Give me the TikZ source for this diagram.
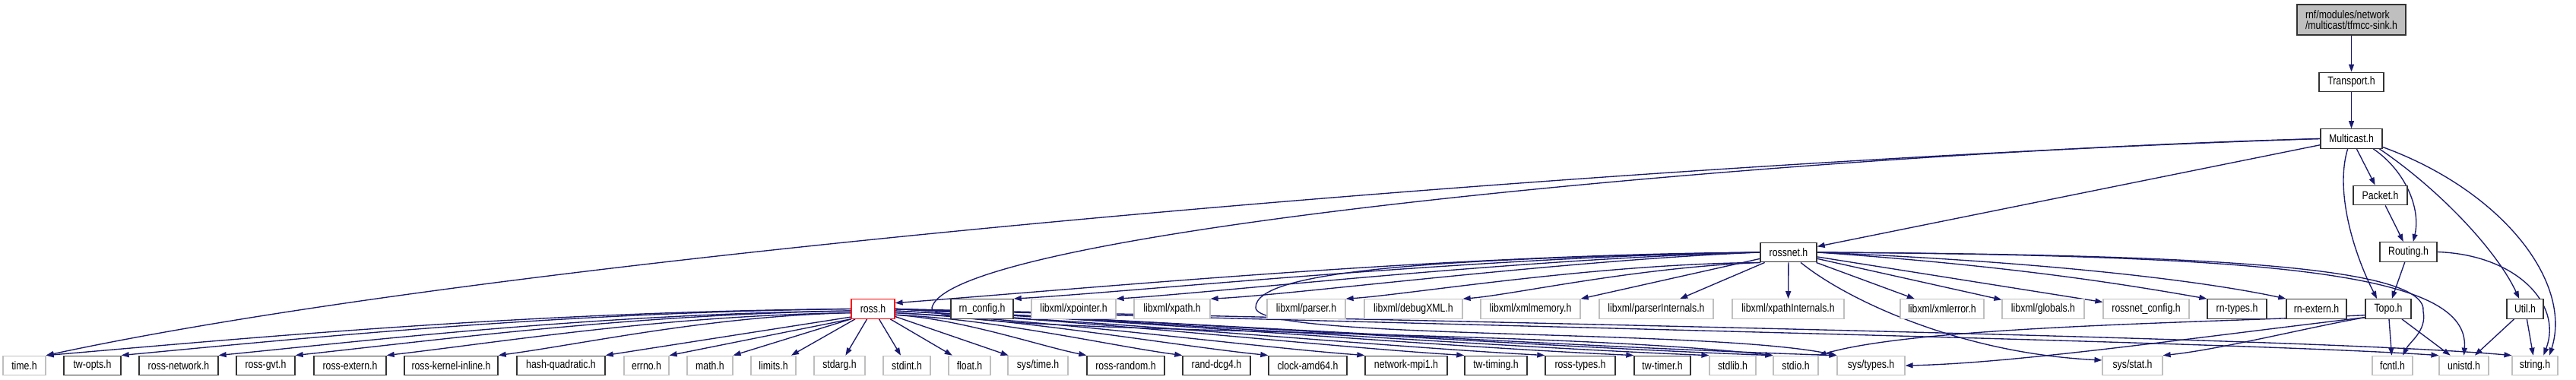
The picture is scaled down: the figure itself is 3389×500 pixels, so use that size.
\documentclass[tikz,border=0pt]{standalone}
\usepackage{fontspec}
\setmainfont{Liberation Sans}[FakeStretch=0.82]
\usetikzlibrary{arrows.meta,calc}
\pgfdeclarelayer{bg}
\pgfsetlayers{bg,main}
\definecolor{edgec}{HTML}{191970}
\definecolor{grayb}{HTML}{BFBFBF}
\tikzset{
 base/.style={rectangle, inner sep=0pt, minimum height=25.5bp, fill=white, line width=1.2bp, font=\fontsize{15bp}{14bp}\selectfont},
 nb/.style={base, draw=black!80, line width=1.4bp},
 ng/.style={base, draw=grayb},
 nr/.style={base, draw=red},
 ns/.style={base, draw=black!80, line width=1.4bp, fill=grayb, align=left, minimum height=40bp},
 e/.style={draw=edgec, line width=1.35bp, -{Triangle[length=10bp,width=7bp]}},
}
\begin{document}
\begin{tikzpicture}[x=1bp,y=-1bp]
\useasboundingbox (0,0) rectangle (3389,500);
% top chain
\node[ns, minimum width=143bp] (sink) at (3093.5,26) {rnf/modules/network\\/multicast/tfmcc-sink.h};
\node[nb, minimum width=85bp] (transport) at (3093.5,108) {Transport.h};
\node[nb, minimum width=81bp] (multicast) at (3093.5,182.5) {Multicast.h};
\node[nb, minimum width=71bp] (packet) at (3131.5,257) {Packet.h};
\node[nb, minimum width=75bp] (routing) at (3168.5,331.5) {Routing.h};
\node[nb, minimum width=74bp] (rossnet) at (2353,332) {rossnet.h};
% middle row
\node[nr, minimum width=57bp] (ross) at (1148.5,406.5) {ross.h};
\node[nb, minimum width=82bp] (rnconfig) at (1292,406.5) {rn\_config.h};
\node[ng, minimum width=111bp] (xpointer) at (1412.5,406.5) {libxml/xpointer.h};
\node[ng, minimum width=100bp] (xpath) at (1542,406.5) {libxml/xpath.h};
\node[ng, minimum width=103bp] (parser) at (1718.5,406.5) {libxml/parser.h};
\node[ng, minimum width=129bp] (debugxml) at (1859.5,406.5) {libxml/debugXML.h};
\node[ng, minimum width=131bp] (xmlmemory) at (2013.5,406.5) {libxml/xmlmemory.h};
\node[ng, minimum width=150bp] (parserint) at (2179,406.5) {libxml/parserInternals.h};
\node[ng, minimum width=147bp] (xpathint) at (2352.5,406.5) {libxml/xpathInternals.h};
\node[ng, minimum width=110bp] (xmlerror) at (2555,406.5) {libxml/xmlerror.h};
\node[ng, minimum width=108bp] (globals) at (2688,406.5) {libxml/globals.h};
\node[ng, minimum width=113bp] (rossnetcfg) at (2823.5,406.5) {rossnet\_config.h};
\node[nb, minimum width=78bp] (rntypes) at (2943,406.5) {rn-types.h};
\node[nb, minimum width=79bp] (rnextern) at (3047.5,406.5) {rn-extern.h};
\node[nb, minimum width=60bp] (topo) at (3142,406.5) {Topo.h};
\node[nb, minimum width=48bp] (util) at (3322,406.5) {Util.h};
% bottom row
\node[ng, minimum width=56bp] (timeh) at (32,481) {time.h};
\node[nb, minimum width=75bp] (twopts) at (121.5,481) {tw-opts.h};
\node[nb, minimum width=104bp] (rossnetwork) at (235,481) {ross-network.h};
\node[nb, minimum width=77bp] (rossgvt) at (349.5,481) {ross-gvt.h};
\node[nb, minimum width=95bp] (rossextern) at (460.5,481) {ross-extern.h};
\node[nb, minimum width=123bp] (kernel) at (593.5,481) {ross-kernel-inline.h};
\node[nb, minimum width=116bp] (hash) at (738,481) {hash-quadratic.h};
\node[ng, minimum width=59bp] (errno) at (850.5,481) {errno.h};
\node[ng, minimum width=60bp] (math) at (934,481) {math.h};
\node[ng, minimum width=59bp] (limits) at (1017.5,481) {limits.h};
\node[ng, minimum width=67bp] (stdarg) at (1104.5,481) {stdarg.h};
\node[ng, minimum width=62bp] (stdint) at (1193,481) {stdint.h};
\node[ng, minimum width=55bp] (float) at (1275.5,481) {float.h};
\node[ng, minimum width=79bp] (systime) at (1365.5,481) {sys/time.h};
\node[nb, minimum width=102bp] (rossrandom) at (1481,481) {ross-random.h};
\node[nb, minimum width=89bp] (randdcg) at (1600.5,481) {rand-dcg4.h};
\node[nb, minimum width=103bp] (clock) at (1720.5,481) {clock-amd64.h};
\node[nb, minimum width=108bp] (netmpi) at (1850,481) {network-mpi1.h};
\node[nb, minimum width=82bp] (twtiming) at (1968,481) {tw-timing.h};
\node[nb, minimum width=92bp] (rosstypes) at (2079,481) {ross-types.h};
\node[nb, minimum width=74bp] (twtimer) at (2187,481) {tw-timer.h};
\node[ng, minimum width=61bp] (stdlib) at (2279.5,481) {stdlib.h};
\node[ng, minimum width=59bp] (stdio) at (2362.5,481) {stdio.h};
\node[ng, minimum width=89bp] (systypes) at (2461.5,481) {sys/types.h};
\node[ng, minimum width=79bp] (sysstat) at (2805.5,481) {sys/stat.h};
\node[ng, minimum width=53bp] (fcntl) at (3147.5,481) {fcntl.h};
\node[ng, minimum width=65bp] (unistd) at (3241.5,481) {unistd.h};
\node[ng, minimum width=60bp] (string) at (3335,481) {string.h};

\begin{pgfonlayer}{bg}
% top chain
\draw[e] (sink) -- (transport);
\draw[e] (transport) -- (multicast);
\draw[e] (multicast) -- (rossnet);
\draw[e] (multicast.west) .. controls (2200,210) and (700,330) .. (timeh.north east);
\draw[e] (multicast.west) .. controls (2400,200) and (1250,300) .. (1226,405) .. controls (1222,442) and (2000,430) .. (stdio.north west);
\draw[e] (multicast.250) .. controls (3072,250) and (3095,330) .. (topo.138);
\draw[e] (multicast) -- (packet);
\draw[e] (multicast.335) .. controls (3165,225) and (3185,275) .. (routing.65);
\draw[e] (multicast.340) .. controls (3210,250) and (3285,330) .. (util.120);
\draw[e] (multicast.345) .. controls (3290,250) and (3385,370) .. (string.35);
\draw[e] (packet) -- (routing);
\draw[e] (routing) -- (topo);
\draw[e] (routing.east) .. controls (3310,335) and (3372,400) .. (string.50);
% Topo / Util
\draw[e] (topo) -- (fcntl);
\draw[e] (topo) -- (unistd);
\draw[e] (topo.200) .. controls (3040,430) and (2920,460) .. (sysstat.north east);
\draw[e] (topo.200) .. controls (2880,445) and (2650,478) .. (systypes.east);
\draw[e] (topo.195) .. controls (2880,425) and (2520,430) .. (stdio.north east);
\draw[e] (util) -- (unistd);
\draw[e] (util) -- (string);
% rossnet.h
\draw[e] (rossnet.west) .. controls (1900,335) and (1450,378) .. (ross.15);
\draw[e] (rossnet.west) .. controls (1950,337) and (1480,385) .. (rnconfig.north east);
\draw[e] (rossnet.west) .. controls (2000,340) and (1600,385) .. (xpointer.north east);
\draw[e] (rossnet.west) .. controls (2050,343) and (1700,388) .. (xpath.north east);
\draw[e] (rossnet.200) .. controls (2100,347) and (1850,388) .. (parser.north east);
\draw[e] (rossnet.200) .. controls (2150,352) and (1990,388) .. (debugxml.north east);
\draw[e] (rossnet) -- (xmlmemory.north east);
\draw[e] (rossnet) -- (parserint);
\draw[e] (rossnet) -- (xpathint);
\draw[e] (rossnet) -- (xmlerror);
\draw[e] (rossnet) -- (globals);
\draw[e] (rossnet) -- (rossnetcfg);
\draw[e] (rossnet.east) .. controls (2650,350) and (2800,375) .. (rntypes.north west);
\draw[e] (rossnet.east) .. controls (2700,345) and (2900,370) .. (rnextern.north west);
\draw[e] (rossnet.east) .. controls (2900,335) and (3195,350) .. (3188,410) .. controls (3193,435) and (3170,450) .. ($(fcntl.north)!0.5!(fcntl.north east)$);
\draw[e] (rossnet.east) .. controls (3000,336) and (3250,360) .. (unistd.north);
\draw[e] (rossnet.320) .. controls (2430,395) and (2580,465) .. (sysstat.170);
\draw[e] (rossnet.west) .. controls (1900,340) and (1650,355) .. (1652,405) .. controls (1654,448) and (2250,432) .. (systypes.north west);
% ross.h left
\draw[e] (ross.west) .. controls (696,410) and (325,445) .. (timeh.north east);
\draw[e] (ross.west) .. controls (736,411) and (399,445) .. (twopts.north east);
\draw[e] (ross.185) .. controls (787,413) and (495,447) .. (rossnetwork.north east);
\draw[e] (ross.185) .. controls (827,414) and (571,448) .. (rossgvt.north east);
\draw[e] (ross.190) .. controls (875,415) and (661,450) .. (rossextern.north east);
\draw[e] (ross.190) .. controls (934,416) and (771,452) .. (kernel.north east);
\draw[e] (ross.200) -- (hash.north east);
\draw[e] (ross.south west) -- (errno.north east);
\draw[e] (ross.south west) -- (math.north east);
\draw[e] (ross) -- (limits);
\draw[e] (ross) -- (stdarg);
\draw[e] (ross) -- (stdint);
\draw[e] (ross) -- (float);
\draw[e] (ross) -- (systime);
% ross.h right
\draw[e] (ross.345) .. controls (1266,420) and (1367,455) .. (rossrandom.north west);
\draw[e] (ross.345) .. controls (1310,420) and (1461,455) .. (randdcg.north west);
\draw[e] (ross.350) .. controls (1349,420) and (1546,455) .. (clock.north west);
\draw[e] (ross.350) .. controls (1394,422) and (1641,456) .. (netmpi.north west);
\draw[e] (ross.355) .. controls (1440,422) and (1740,456) .. (twtiming.north west);
\draw[e] (ross.355) .. controls (1477,424) and (1819,456) .. (rosstypes.north west);
\draw[e] (ross.east) .. controls (1518,424) and (1907,457) .. (twtimer.north west);
\draw[e] (ross.east) .. controls (1552,426) and (1981,457) .. (stdlib.north west);
\draw[e] (ross.east) .. controls (1582,426) and (2044,457) .. (stdio.north west);
\draw[e] (ross.east) .. controls (1611,428) and (2107,458) .. (systypes.north west);
\draw[e] (ross.east) .. controls (1900,428) and (2950,450) .. (unistd.north west);
\draw[e] (ross.east) .. controls (2000,425) and (3050,445) .. (string.north west);
\end{pgfonlayer}
\end{tikzpicture}
\end{document}
